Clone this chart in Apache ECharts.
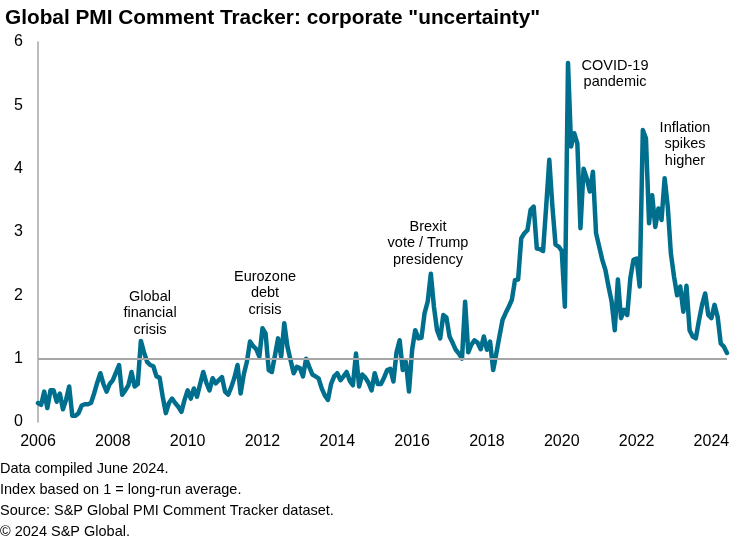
<!DOCTYPE html>
<html>
<head>
<meta charset="utf-8">
<script src="https://cdn.jsdelivr.net/npm/echarts@6/dist/echarts.min.js"></script>
<style>
html,body{margin:0;padding:0;background:#fff;}
#chart{width:741px;height:541px;}
</style>
</head>
<body>
<div id="chart"></div>
<script>
// Monthly series, Jan 2006 .. Jun 2024
const startYear = 2006;
const v2006 = [0.30, 0.27, 0.48, 0.22, 0.50, 0.50, 0.32, 0.45, 0.20, 0.35, 0.56, 0.10];
const v2007 = [0.10, 0.14, 0.26, 0.28, 0.28, 0.30, 0.45, 0.62, 0.77, 0.60, 0.48, 0.60];
const v2008 = [0.66, 0.78, 0.90, 0.43, 0.50, 0.58, 0.79, 0.56, 0.60, 1.28, 1.10, 0.95];
const v2009 = [0.90, 0.88, 0.72, 0.70, 0.40, 0.14, 0.30, 0.37, 0.30, 0.24, 0.16, 0.35];
const v2010 = [0.50, 0.37, 0.53, 0.40, 0.60, 0.79, 0.62, 0.50, 0.69, 0.61, 0.66, 0.71];
const v2011 = [0.48, 0.43, 0.55, 0.70, 0.90, 0.45, 0.75, 0.95, 1.27, 1.20, 1.15, 1.03];
const v2012 = [1.48, 1.40, 0.82, 0.79, 1.05, 1.32, 1.03, 1.56, 1.19, 0.98, 0.77, 0.87];
const v2013 = [0.85, 0.72, 1.00, 0.87, 0.75, 0.72, 0.69, 0.53, 0.42, 0.35, 0.60, 0.72];
const v2014 = [0.77, 0.66, 0.72, 0.79, 0.65, 0.58, 1.08, 0.56, 0.75, 0.70, 0.62, 0.50];
const v2015 = [0.77, 0.60, 0.60, 0.70, 0.82, 0.84, 0.64, 1.10, 1.29, 0.82, 0.95, 0.48];
const v2016 = [1.14, 1.45, 1.32, 1.33, 1.72, 1.90, 2.34, 1.82, 1.45, 1.32, 1.69, 1.65];
const v2017 = [1.35, 1.25, 1.14, 1.08, 1.00, 1.90, 1.10, 1.22, 1.29, 1.25, 1.15, 1.35];
const v2018 = [1.14, 1.27, 0.82, 1.08, 1.35, 1.61, 1.72, 1.82, 1.93, 2.24, 2.25, 2.90];
const v2019 = [2.98, 3.03, 3.35, 3.40, 2.74, 2.73, 2.70, 3.40, 4.14, 3.40, 2.80, 2.77];
const v2020 = [2.70, 1.82, 5.67, 4.35, 4.56, 4.40, 3.06, 4.00, 3.85, 3.64, 3.95, 2.98];
const v2021 = [2.77, 2.56, 2.40, 2.14, 1.90, 1.45, 2.25, 1.64, 1.77, 1.69, 2.27, 2.56];
const v2022 = [2.58, 2.14, 4.61, 4.48, 3.14, 3.58, 3.08, 3.37, 3.19, 3.85, 3.40, 2.66];
const v2023 = [2.30, 2.00, 2.14, 1.74, 2.15, 1.45, 1.35, 1.32, 1.60, 1.85, 2.03, 1.69];
const v2024 = [1.64, 1.85, 1.66, 1.24, 1.19, 1.09];

const yearLabels = [2006, 2008, 2010, 2012, 2014, 2016, 2018, 2020, 2022, 2024];
const yTicks = [0, 1, 2, 3, 4, 5, 6];
const refLevel = 1;

const titleText = 'Global PMI Comment Tracker: corporate "uncertainty"';
const footnotes = [
  'Data compiled June 2024.',
  'Index based on 1 = long-run average.',
  'Source: S&P Global PMI Comment Tracker dataset.',
  '\u00A9 2024 S&P Global.'
];
const annotations = [
  {text: 'Global\nfinancial\ncrisis', x: 150, y: 313},
  {text: 'Eurozone\ndebt\ncrisis', x: 265, y: 293},
  {text: 'Brexit\nvote / Trump\npresidency', x: 428, y: 243},
  {text: 'COVID-19\npandemic', x: 615, y: 74},
  {text: 'Inflation\nspikes\nhigher', x: 685, y: 144}
];

const allValues = [].concat(v2006, v2007, v2008, v2009, v2010, v2011, v2012, v2013,
  v2014, v2015, v2016, v2017, v2018, v2019, v2020, v2021, v2022, v2023, v2024);
const seriesData = allValues.map((v, i) => [startYear + i / 12, v]);
const xMax = startYear + (allValues.length - 1) / 12;

const FONT = '"Liberation Sans", Arial, sans-serif';
const chart = echarts.init(document.getElementById('chart'), null, {renderer: 'canvas'});

const graphics = [];
footnotes.forEach((t, k) => {
  graphics.push({
    type: 'text', left: 0, top: 461 + k * 21,
    style: {text: t, fontSize: 14.5, fontFamily: FONT, fill: '#000'}
  });
});
annotations.forEach(a => {
  graphics.push({
    type: 'text', x: a.x, y: a.y,
    style: {text: a.text, fontSize: 14.5, lineHeight: 16.5, fontFamily: FONT, fill: '#000',
            textAlign: 'center', textVerticalAlign: 'middle'}
  });
});

chart.setOption({
  animation: false,
  backgroundColor: '#fff',
  title: {
    text: titleText, left: 0, top: 3,
    textStyle: {fontSize: 20.8, fontWeight: 'bold', fontFamily: FONT, color: '#000'}
  },
  grid: {left: 38, right: 14, top: 42, bottom: 119, containLabel: false},
  xAxis: {
    type: 'value', min: startYear, max: xMax, interval: 2,
    axisLine: {show: false}, axisTick: {show: false}, splitLine: {show: false},
    axisLabel: {
      fontSize: 16, fontFamily: FONT, color: '#000', margin: 12, showMaxLabel: false,
      formatter: v => (yearLabels.indexOf(Math.round(v * 1000) / 1000) >= 0 ? String(v) : '')
    }
  },
  yAxis: {
    type: 'value', min: yTicks[0], max: yTicks[yTicks.length - 1], interval: 1,
    axisLine: {show: true, lineStyle: {color: '#a6a6a6', width: 1.5}},
    axisTick: {show: false}, splitLine: {show: false},
    axisLabel: {fontSize: 16, fontFamily: FONT, color: '#000', margin: 15}
  },
  series: [
    {
      type: 'line', data: [], z: 1, silent: true,
      markLine: {
        silent: true, symbol: 'none', label: {show: false},
        lineStyle: {color: '#a6a6a6', width: 2, type: 'solid'},
        data: [{yAxis: refLevel}]
      }
    },
    {
      type: 'line', data: seriesData, z: 2, showSymbol: false, symbol: 'none',
      lineStyle: {color: '#006f8e', width: 4.5, join: 'round', cap: 'round'},
      silent: true
    }
  ],
  graphic: graphics
});
</script>
</body>
</html>
